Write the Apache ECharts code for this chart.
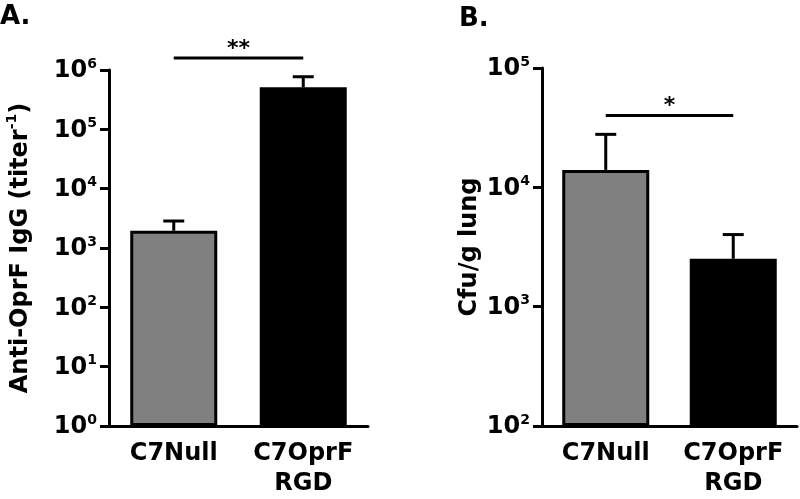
<!DOCTYPE html>
<html>
<head>
<meta charset="utf-8">
<script src="https://cdn.jsdelivr.net/npm/echarts@6/dist/echarts.min.js"></script>
<style>html,body{margin:0;padding:0;background:#fff}#c{width:800px;height:499px}</style>
</head>
<body>
<div id="c"></div>
<script>
// ---- data ----
const categories = ['C7Null', 'C7OprF\nRGD'];
const barColors = ['#808080', '#000000'];
const titerMean = [1950, 510000];
const titerUpper = [2850, 770000];
const cfuMean = [14000, 2520];
const cfuUpper = [27800, 4020];
const sigA = { from: 0, to: 1, y: 1.59e6, label: '**' };
const sigB = { from: 0, to: 1, y: 40000, label: '*' };
const titerRange = [1, 1e6];
const cfuRange = [100, 1e5];

const FONT = 'DejaVu Sans';
const chart = echarts.init(document.getElementById('c'), null, { renderer: 'canvas' });

function tickLabel(v) {
  const e = Math.round(Math.log10(v));
  return '{b|10}{s|' + e + '}';
}
const tickRich = {
  b: { fontSize: 24, fontWeight: 'bold', fontFamily: FONT, color: '#000', lineHeight: 26, verticalAlign: 'bottom' },
  s: { fontSize: 14, fontWeight: 'bold', fontFamily: FONT, color: '#000', lineHeight: 14, verticalAlign: 'top' }
};

function yAxis(idx, range, name, nameGap) {
  return {
    type: 'log', logBase: 10, gridIndex: idx, min: range[0], max: range[1], interval: 1,
    startValue: range[0],
    name: name, nameLocation: 'middle', nameRotate: 90, nameGap: nameGap,
    nameTextStyle: {
      fontSize: 24, fontWeight: 'bold', fontFamily: FONT, color: '#000',
      rich: {
        n: { fontSize: 24, fontWeight: 'bold', fontFamily: FONT, color: '#000', lineHeight: 28, verticalAlign: 'bottom' },
        sup: { fontSize: 14, fontWeight: 'bold', fontFamily: FONT, color: '#000', lineHeight: 14, verticalAlign: 'top' }
      }
    },
    axisLine: { show: true, lineStyle: { color: '#000', width: 3 } },
    axisTick: { show: true, length: 9, lineStyle: { color: '#000', width: 3 } },
    minorTick: { show: false },
    splitLine: { show: false },
    axisLabel: { formatter: tickLabel, rich: tickRich, margin: 12 }
  };
}
function xAxis(idx) {
  return {
    type: 'category', gridIndex: idx, data: categories,
    axisLine: { show: true, lineStyle: { color: '#000', width: 3 } },
    axisTick: { show: false },
    axisLabel: { fontSize: 24, fontWeight: 'bold', fontFamily: FONT, color: '#000', lineHeight: 30, margin: 13, interval: 0 }
  };
}
function barSeries(idx, values) {
  return {
    type: 'bar', xAxisIndex: idx, yAxisIndex: idx, barWidth: 87, z: 2,
    data: values.map((v, i) => ({ value: v, itemStyle: { color: barColors[i] } })),
    itemStyle: { borderColor: '#000', borderWidth: 3 }
  };
}
function errSeries(idx, means, uppers) {
  return {
    type: 'custom', xAxisIndex: idx, yAxisIndex: idx, z: 3, clip: false,
    data: means.map((m, i) => [i, m, uppers[i]]),
    renderItem: function (params, api) {
      const p0 = api.coord([api.value(0), api.value(1)]);
      const p1 = api.coord([api.value(0), api.value(2)]);
      const hw = 10.5;
      const st = { stroke: '#000', lineWidth: 3 };
      return { type: 'group', children: [
        { type: 'line', shape: { x1: p0[0], y1: p0[1], x2: p1[0], y2: p1[1] }, style: st },
        { type: 'line', shape: { x1: p1[0] - hw, y1: p1[1], x2: p1[0] + hw, y2: p1[1] }, style: st }
      ] };
    }
  };
}
function sigSeries(idx, sig) {
  return {
    type: 'custom', xAxisIndex: idx, yAxisIndex: idx, z: 3, clip: false,
    data: [[sig.from, sig.to, sig.y]],
    renderItem: function (params, api) {
      const a = api.coord([api.value(0), api.value(2)]);
      const b = api.coord([api.value(1), api.value(2)]);
      return { type: 'group', children: [
        { type: 'line', shape: { x1: a[0], y1: a[1], x2: b[0], y2: b[1] }, style: { stroke: '#000', lineWidth: 3 } },
        { type: 'text', x: (a[0] + b[0]) / 2, y: a[1] + 2,
          style: { text: sig.label, fontSize: 22, fontWeight: 'bold', fontFamily: FONT, fill: '#000', align: 'center', verticalAlign: 'bottom' } }
      ] };
    }
  };
}

chart.setOption({
  animation: false,
  backgroundColor: '#fff',
  title: [
    { text: 'A.', left: 0, top: 4, padding: 0, textStyle: { fontSize: 26, fontWeight: 'bold', fontFamily: FONT, color: '#000' } },
    { text: 'B.', left: 459, top: 6, padding: 0, textStyle: { fontSize: 26, fontWeight: 'bold', fontFamily: FONT, color: '#000' } }
  ],
  grid: [
    { left: 109, top: 70, width: 259, height: 357 },
    { left: 542, top: 68, width: 255, height: 358 }
  ],
  xAxis: [xAxis(0), xAxis(1)],
  yAxis: [
    yAxis(0, titerRange, '{n|Anti-OprF IgG (titer}{sup|-1}{n|)}', 76),
    yAxis(1, cfuRange, 'Cfu/g lung', 60)
  ],
  series: [
    barSeries(0, titerMean), errSeries(0, titerMean, titerUpper), sigSeries(0, sigA),
    barSeries(1, cfuMean), errSeries(1, cfuMean, cfuUpper), sigSeries(1, sigB)
  ]
});
</script>
</body>
</html>
